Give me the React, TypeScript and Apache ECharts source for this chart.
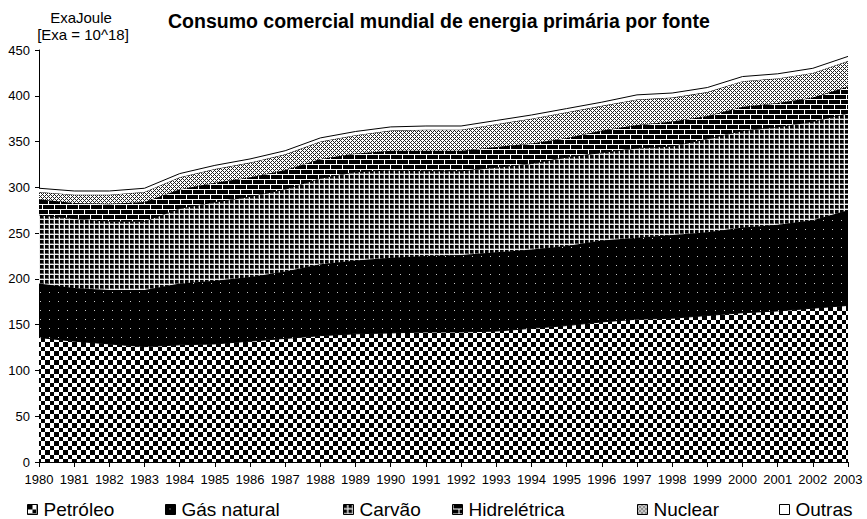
import React, { useEffect, useRef } from "react";
import * as echarts from "echarts";

const years = [
  "1980", "1981", "1982", "1983", "1984", "1985", "1986", "1987", "1988", "1989", "1990", "1991",
  "1992", "1993", "1994", "1995", "1996", "1997", "1998", "1999", "2000", "2001", "2002", "2003",
];

const petroleo = [136, 132, 129, 126, 128, 129, 132, 135, 138, 140, 141, 142, 142, 143, 146, 149, 153, 156, 157, 160, 163, 165, 168, 171];
const gasNatural = [59, 58, 59, 62, 67, 69, 70, 73, 78, 80, 82, 83, 84, 86, 86, 87, 89, 89, 91, 91, 93, 94, 96, 104];
const carvao = [75, 76, 75, 75, 82, 86, 88, 90, 94, 97, 96, 93, 92, 93, 94, 97, 96, 98, 97, 102, 106, 107, 108, 106];
const hidreletrica = [17, 17, 19, 21, 21, 21, 21, 21, 21, 20, 21, 22, 22, 22, 22, 21, 24, 25, 27, 25, 26, 26, 26, 29];
const nuclear = [8, 9, 10, 11, 13, 15, 16, 17, 19, 20, 22, 23, 23, 25, 27, 28, 27, 28, 26, 26, 28, 27, 27, 28];
const outras = [4, 4, 4, 4, 4, 4, 4, 4, 4, 4, 4, 4, 4, 4, 4, 4, 4, 5, 5, 5, 5, 5, 5, 5];

const seriesNames = ["Petróleo", "Gás natural", "Carvão", "Hidrelétrica", "Nuclear", "Outras"];
const yTicks = { min: 0, max: 450, interval: 50 };
const legendLefts = [27, 165, 343, 452, 637, 779];

const FONT = "'Liberation Sans', Arial, sans-serif";

function makeCanvas(w: number, h: number, draw: (c: CanvasRenderingContext2D) => void) {
  const cv = document.createElement("canvas");
  cv.width = w;
  cv.height = h;
  const ctx = cv.getContext("2d")!;
  ctx.imageSmoothingEnabled = false;
  draw(ctx);
  return cv;
}

function makePatterns() {
  const checker = makeCanvas(9, 9, (c) => {
    c.fillStyle = "#fff";
    c.fillRect(0, 0, 9, 9);
    c.fillStyle = "#000";
    c.fillRect(0, 0, 5, 5);
    c.fillRect(5, 5, 4, 4);
  });
  const dots = makeCanvas(9, 9, (c) => {
    c.fillStyle = "#000";
    c.fillRect(0, 0, 9, 9);
    c.fillStyle = "#c8c8c8";
    c.fillRect(4, 4, 1, 1);
  });
  const grid = makeCanvas(5, 5, (c) => {
    c.fillStyle = "#000";
    c.fillRect(0, 0, 5, 5);
    c.fillStyle = "#5a5a5a";
    c.fillRect(3, 0, 1, 5);
    c.fillRect(0, 3, 5, 1);
    c.fillStyle = "#f0f0f0";
    c.fillRect(4, 0, 1, 5);
    c.fillRect(0, 4, 5, 1);
  });
  const brick = makeCanvas(12, 10, (c) => {
    c.fillStyle = "#000";
    c.fillRect(0, 0, 12, 10);
    c.fillStyle = "#fff";
    c.fillRect(0, 4, 12, 1);
    c.fillRect(0, 9, 12, 1);
    c.fillRect(0, 0, 1, 4);
    c.fillRect(6, 5, 1, 4);
  });
  const hatch = makeCanvas(4, 4, (c) => {
    c.fillStyle = "#fff";
    c.fillRect(0, 0, 4, 4);
    c.fillStyle = "#222";
    [[0, 0], [1, 1], [2, 2], [3, 3], [1, 3], [3, 1]].forEach(([x, y]) => c.fillRect(x, y, 1, 1));
  });
  const plain = makeCanvas(8, 8, (c) => {
    c.fillStyle = "#fff";
    c.fillRect(0, 0, 8, 8);
  });
  return [checker, dots, grid, brick, hatch, plain].map((img) => ({
    image: img,
    repeat: "repeat",
  }));
}

export default function App() {
  const ref = useRef<HTMLDivElement>(null);
  useEffect(() => {
    if (!ref.current) return;
    const chart = echarts.init(ref.current, undefined, { renderer: "svg" });
    const patterns = makePatterns();
    const values = [petroleo, gasNatural, carvao, hidreletrica, nuclear, outras];

    const series = seriesNames.map((name, i) => ({
      name,
      type: "line",
      stack: "total",
      data: values[i],
      symbol: "none",
      showSymbol: false,
      lineStyle: { color: "#000", width: 1 },
      itemStyle: { color: patterns[i] as any, borderColor: "#000", borderWidth: 1 },
      areaStyle: { color: patterns[i] as any, opacity: 1 },
      z: 2 + i,
    }));

    const legends = seriesNames.map((name, i) => ({
      data: [{ name, icon: "rect" }],
      left: legendLefts[i],
      top: 500,
      padding: 0,
      itemWidth: 10,
      itemHeight: 10,
      itemStyle: { borderColor: "#000", borderWidth: 1 },
      textStyle: { color: "#000", fontSize: 19, fontFamily: FONT, padding: [0, 0, 0, 1] },
      selectedMode: false,
    }));

    chart.setOption({
      animation: false,
      backgroundColor: "#fff",
      title: {
        text: "Consumo comercial mundial de energia primária por fonte",
        left: 168,
        top: 11,
        padding: 0,
        textStyle: { color: "#000", fontSize: 19.5, fontWeight: "bold", fontFamily: FONT },
      },
      graphic: [
        {
          type: "text",
          x: 81,
          y: 17,
          style: { text: "ExaJoule", fill: "#000", fontSize: 15, fontFamily: FONT, align: "center", verticalAlign: "middle" },
        },
        {
          type: "text",
          x: 83,
          y: 34,
          style: { text: "[Exa = 10^18]", fill: "#000", fontSize: 15, fontFamily: FONT, align: "center", verticalAlign: "middle" },
        },
      ],
      legend: legends,
      grid: { left: 39, right: 19, top: 50, bottom: 57, containLabel: false },
      xAxis: {
        type: "category",
        data: years,
        boundaryGap: false,
        axisLine: { lineStyle: { color: "#000", width: 1 } },
        axisTick: { show: true, length: 5, lineStyle: { color: "#000" } },
        axisLabel: { color: "#000", fontSize: 13, fontFamily: FONT, interval: 0, margin: 11 },
        splitLine: { show: false },
      },
      yAxis: {
        type: "value",
        min: yTicks.min,
        max: yTicks.max,
        interval: yTicks.interval,
        axisLine: { show: true, lineStyle: { color: "#000", width: 1 } },
        axisTick: { show: true, length: 4, lineStyle: { color: "#000" } },
        axisLabel: { color: "#000", fontSize: 13, fontFamily: FONT, margin: 9 },
        splitLine: { show: false },
      },
      series,
    });
    return () => chart.dispose();
  }, []);
  return <div ref={ref} style={{ position: "fixed", left: 0, top: 0, width: 867, height: 519 }} />;
}
